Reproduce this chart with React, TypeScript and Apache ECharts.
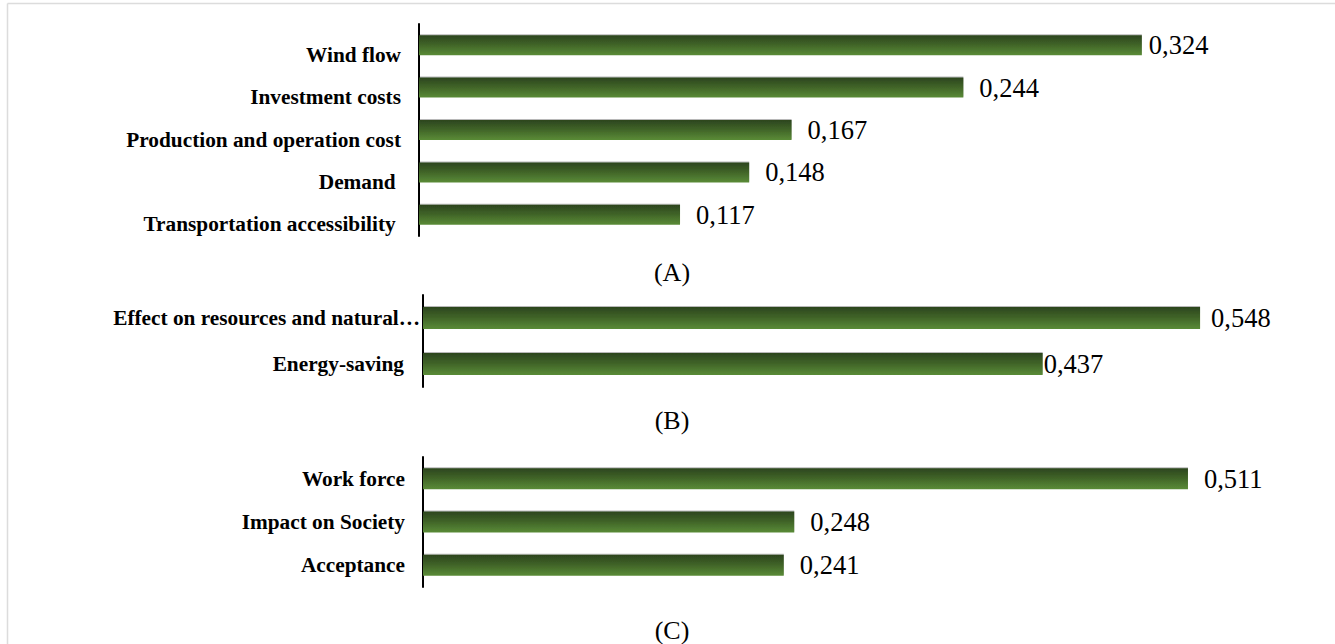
import React, { useEffect, useRef } from "react";
import * as echarts from "echarts";

// (A) technical criteria
const categoriesA = [
  "Wind flow",
  "Investment costs",
  "Production and operation cost",
  "Demand\u00a0",
  "Transportation accessibility\u00a0",
];
const valuesA = [0.324, 0.244, 0.167, 0.148, 0.117];
const labelGapA = [7, 16, 16, 16, 16];

// (B) environmental criteria
const categoriesB = ["Effect on resources and natural…", "Energy-saving"];
const valuesB = [0.548, 0.437];
const labelGapB = [11, 1];

// (C) social criteria
const categoriesC = ["Work force", "Impact on Society", "Acceptance"];
const valuesC = [0.511, 0.248, 0.241];
const labelGapC = [16, 16, 16];

const panelTitles = ["(A)", "(B)", "(C)"];

const SERIF = '"Liberation Serif", "Times New Roman", serif';

const barFill = new echarts.graphic.LinearGradient(0, 0, 0, 1, [
  { offset: 0, color: "#2c451e" },
  { offset: 0.45, color: "#3f6227" },
  { offset: 1, color: "#5a8b37" },
]);

const fmt = (v: number) => v.toFixed(3).replace(".", ",");

function makeSeries(idx: number, values: number[], gaps: number[], barWidth: number) {
  return {
    type: "bar",
    xAxisIndex: idx,
    yAxisIndex: idx,
    barWidth,
    data: values.map((v, i) => ({
      value: v,
      label: { distance: gaps[i] },
    })),
    itemStyle: {
      color: barFill,
      shadowColor: "rgba(0,0,0,0.28)",
      shadowBlur: 1,
      shadowOffsetY: -1,
    },
    label: {
      show: true,
      position: "right",
      formatter: (p: any) => fmt(p.value),
      fontFamily: SERIF,
      fontSize: 26.5,
      color: "#000",
    },
  };
}

const catAxisBase = {
  type: "category",
  inverse: true,
  axisTick: { show: false },
  axisLine: { show: true, lineStyle: { color: "#000", width: 2 } },
  splitLine: { show: false },
};

const labelFont = {
  fontFamily: SERIF,
  fontWeight: "bold",
  fontSize: 21.3,
  color: "#000",
};

export default function App() {
  const ref = useRef<HTMLDivElement>(null);

  useEffect(() => {
    if (!ref.current) return;
    const chart = echarts.init(ref.current, null, { renderer: "svg" });

    const option = {
      animation: false,
      backgroundColor: "#fff",
      grid: [
        { left: 419, top: 24, width: 0.35 * 2231, height: 212 },
        { left: 423, top: 295, width: 0.6 * 1418, height: 92 },
        { left: 423, top: 457, width: 0.6 * 1497, height: 130 },
      ],
      xAxis: [
        { type: "value", gridIndex: 0, min: 0, max: 0.35, show: false },
        { type: "value", gridIndex: 1, min: 0, max: 0.6, show: false },
        { type: "value", gridIndex: 2, min: 0, max: 0.6, show: false },
      ],
      yAxis: [
        {
          ...catAxisBase,
          gridIndex: 0,
          data: categoriesA,
          // labels in this panel sit a little below their bars
          axisLabel: { ...labelFont, margin: 18, verticalAlign: "top", lineHeight: 19 },
        },
        {
          ...catAxisBase,
          gridIndex: 1,
          data: categoriesB,
          axisLabel: {
            margin: 3,
            formatter: (v: string) => (v === categoriesB[0] ? `{t|${v}}` : `{p|${v}}`),
            rich: {
              t: { ...labelFont },
              p: { ...labelFont, padding: [0, 16, 0, 0] },
            },
          },
        },
        {
          ...catAxisBase,
          gridIndex: 2,
          data: categoriesC,
          axisLabel: { ...labelFont, margin: 18 },
        },
      ],
      series: [
        makeSeries(0, valuesA, labelGapA, 20),
        makeSeries(1, valuesB, labelGapB, 22),
        makeSeries(2, valuesC, labelGapC, 21),
      ],
      graphic: [
        {
          type: "line",
          shape: { x1: 7.5, y1: 3.5, x2: 1335, y2: 3.5 },
          style: { stroke: "#dcdcdc", lineWidth: 1.5 },
        },
        {
          type: "line",
          shape: { x1: 7.5, y1: 3.5, x2: 7.5, y2: 644 },
          style: { stroke: "#dcdcdc", lineWidth: 1.5 },
        },
        ...panelTitles.map((t, i) => ({
          type: "text",
          x: 672,
          y: [272, 420, 630][i],
          style: {
            text: t,
            font: `26px ${SERIF}`,
            fill: "#000",
            textAlign: "center",
            textVerticalAlign: "middle",
            align: "center",
            verticalAlign: "middle",
          },
        })),
      ],
    };

    chart.setOption(option as any);
    return () => chart.dispose();
  }, []);

  return (
    <div
      ref={ref}
      style={{ position: "fixed", left: 0, top: 0, width: 1335, height: 644 }}
    />
  );
}
